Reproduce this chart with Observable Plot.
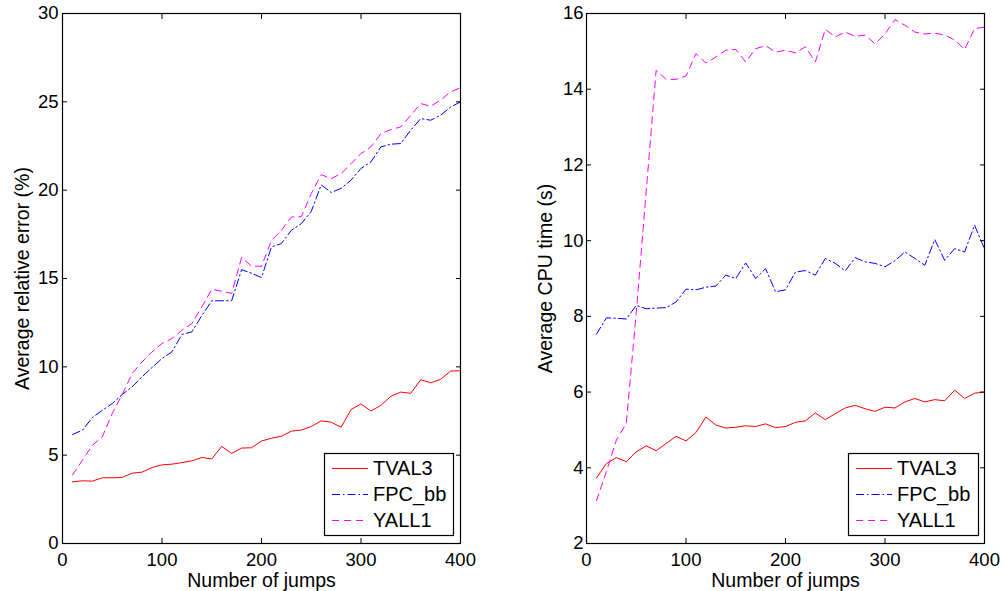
<!DOCTYPE html>
<html><head><meta charset="utf-8">
<script src="https://cdn.jsdelivr.net/npm/d3@7"></script>
<script src="https://cdn.jsdelivr.net/npm/@observablehq/plot@0.6"></script>
<style>
html,body{margin:0;padding:0;background:#fff;}
#wrap{position:relative;width:1004px;height:591px;overflow:hidden;font-family:"Liberation Sans",Arial,Helvetica,sans-serif;}
.panel{position:absolute;top:0;}
.legend{position:absolute;overflow:visible;}
</style></head><body><div id="wrap"></div>
<script>
// ---- data ----
const jumps = [10,20,30,40,50,60,70,80,90,100,110,120,130,140,150,160,170,180,190,200,
               210,220,230,240,250,260,270,280,290,300,310,320,330,340,350,360,370,380,390,400];
const seriesNames = ["TVAL3", "FPC_bb", "YALL1"];
const seriesColors = ["#ff0000", "#0000ff", "#ff00ff"];

// Left panel: average relative error (%)
const errTVAL3 = [3.49,3.55,3.53,3.72,3.72,3.74,3.98,4.04,4.30,4.45,4.49,4.58,4.68,4.87,4.79,5.50,5.10,5.40,5.42,5.80,
                  5.96,6.07,6.36,6.42,6.62,6.94,6.87,6.58,7.58,7.90,7.50,7.82,8.33,8.57,8.50,9.27,9.10,9.29,9.76,9.78];
const errFPCbb = [6.17,6.41,7.13,7.54,7.92,8.43,8.87,9.44,9.96,10.47,10.85,11.83,11.98,12.90,13.74,13.74,13.74,15.50,15.30,15.05,
                  16.79,16.98,17.73,18.10,18.80,20.30,19.87,20.10,20.57,21.23,21.60,22.45,22.60,22.64,23.40,24.05,23.96,24.24,24.70,25.00];
const errYALL1 = [3.87,4.71,5.56,6.04,7.36,8.43,9.62,10.28,10.85,11.32,11.60,12.07,12.45,13.39,14.39,14.28,14.15,16.19,15.70,15.69,
                  17.15,17.73,18.48,18.50,19.80,20.88,20.65,20.94,21.50,22.07,22.45,23.20,23.43,23.58,24.24,24.90,24.75,25.10,25.56,25.80];

// Right panel: average CPU time (s)
const cpuTVAL3 = [3.73,4.11,4.27,4.16,4.42,4.58,4.45,4.64,4.83,4.71,4.93,5.34,5.13,5.05,5.07,5.11,5.09,5.16,5.06,5.09,
                  5.20,5.24,5.45,5.27,5.43,5.58,5.65,5.56,5.49,5.60,5.58,5.74,5.83,5.74,5.80,5.77,6.05,5.83,5.97,6.00];
const cpuFPCbb = [7.53,7.96,7.95,7.93,8.29,8.20,8.22,8.23,8.38,8.72,8.70,8.77,8.80,9.09,9.00,9.41,9.00,9.26,8.65,8.70,
                  9.17,9.21,9.09,9.53,9.40,9.20,9.55,9.44,9.40,9.31,9.47,9.70,9.53,9.35,10.03,9.48,9.79,9.70,10.41,9.78];
const cpuYALL1 = [3.13,3.90,4.73,5.17,8.10,11.30,14.50,14.26,14.26,14.35,14.94,14.69,14.85,15.03,15.05,14.72,15.07,15.15,14.98,15.03,
                  14.96,15.12,14.72,15.58,15.38,15.51,15.40,15.43,15.20,15.46,15.84,15.69,15.51,15.46,15.48,15.43,15.30,15.05,15.60,15.64];

const xTicks = [0, 100, 200, 300, 400];
const errTicks = [0, 5, 10, 15, 20, 25, 30];
const cpuTicks = [2, 4, 6, 8, 10, 12, 14, 16];
const xLabel = "Number of jumps";
const errLabel = "Average relative error (%)";
const cpuLabel = "Average CPU time (s)";

// ---- styles ----
const dashes = [null, "8,3,1.5,3", "7,5"];
const FONT = '"Liberation Sans", Arial, Helvetica, sans-serif';
const TICK_FS = 18.5, LABEL_FS = 19.5, LEGEND_FS = 20;

function toRows(arrays) {
  return seriesNames.map((name, k) => jumps.map((j, i) => ({jumps: j, value: arrays[k][i], series: name})));
}

function panel({arrays, yDomain, yTicks, yLabel, marginLeft, marginRight, yLabelDx, yTickPad}) {
  const rows = toRows(arrays);
  const lines = rows.map((r, k) => Plot.line(r, {
    x: "jumps", y: "value", stroke: seriesColors[k], strokeWidth: 1,
    strokeDasharray: dashes[k] || undefined
  }));
  return Plot.plot({
    width: 502, height: 591,
    marginTop: 13, marginBottom: 48, marginLeft, marginRight,
    style: {fontFamily: FONT, fontSize: TICK_FS + "px", background: "transparent", color: "black", overflow: "visible"},
    x: {domain: [0, 400], label: null},
    y: {domain: yDomain, label: null},
    marks: [
      ...lines,
      Plot.frame({stroke: "black", strokeWidth: 1.2}),
      Plot.axisX({ticks: xTicks, anchor: "bottom", tickSize: -5, tickPadding: 14, tickFormat: d => String(d), label: null, fontSize: TICK_FS}),
      Plot.axisX({ticks: xTicks, anchor: "top", tickSize: -5, tickFormat: () => "", label: null}),
      Plot.axisY({ticks: yTicks, anchor: "left", tickSize: -5, tickPadding: yTickPad, tickFormat: d => String(d), label: null, fontSize: TICK_FS}),
      Plot.axisY({ticks: yTicks, anchor: "right", tickSize: -5, tickFormat: () => "", label: null}),
      Plot.text([xLabel], {frameAnchor: "bottom", text: d => d, dy: 37, lineAnchor: "middle", textAnchor: "middle", fontSize: LABEL_FS}),
      Plot.text([yLabel], {frameAnchor: "left", text: d => d, dx: yLabelDx, rotate: -90, lineAnchor: "middle", textAnchor: "middle", fontSize: LABEL_FS})
    ]
  });
}

function legend(left, top, w, h, sx0, sx1, tx, rowYs) {
  const svg = d3.create("svg").attr("class", "legend")
    .attr("width", w + 1).attr("height", h + 1)
    .style("left", left + "px").style("top", top + "px");
  svg.append("rect").attr("x", 0.5).attr("y", 0.5).attr("width", w).attr("height", h)
    .attr("fill", "white").attr("stroke", "black").attr("stroke-width", 1.2);
  seriesNames.forEach((name, k) => {
    const y = rowYs[k];
    svg.append("line").attr("x1", sx0).attr("x2", sx1).attr("y1", y + 0.5).attr("y2", y + 0.5)
      .attr("stroke", seriesColors[k]).attr("stroke-width", 1)
      .attr("stroke-dasharray", dashes[k]);
    svg.append("text").attr("x", tx).attr("y", y).attr("dy", "0.36em")
      .attr("font-family", FONT).attr("font-size", LEGEND_FS).attr("fill", "black").text(name);
  });
  return svg.node();
}

const wrap = document.getElementById("wrap");
const left = panel({arrays: [errTVAL3, errFPCbb, errYALL1], yDomain: [0, 30], yTicks: errTicks, yLabel: errLabel,
                    marginLeft: 62, marginRight: 42, yLabelDx: -40, yTickPad: 9});
left.classList.add("panel"); left.style.left = "0px";
const right = panel({arrays: [cpuTVAL3, cpuFPCbb, cpuYALL1], yDomain: [2, 16], yTicks: cpuTicks, yLabel: cpuLabel,
                     marginLeft: 84, marginRight: 20, yLabelDx: -41, yTickPad: 8});
right.classList.add("panel"); right.style.left = "502px";
wrap.appendChild(left);
wrap.appendChild(right);
wrap.appendChild(legend(324, 453, 129, 82, 8, 44, 49, [15, 41, 67]));
wrap.appendChild(legend(848, 453, 130, 82, 8, 44, 49, [15, 41, 67]));
</script></body></html>
